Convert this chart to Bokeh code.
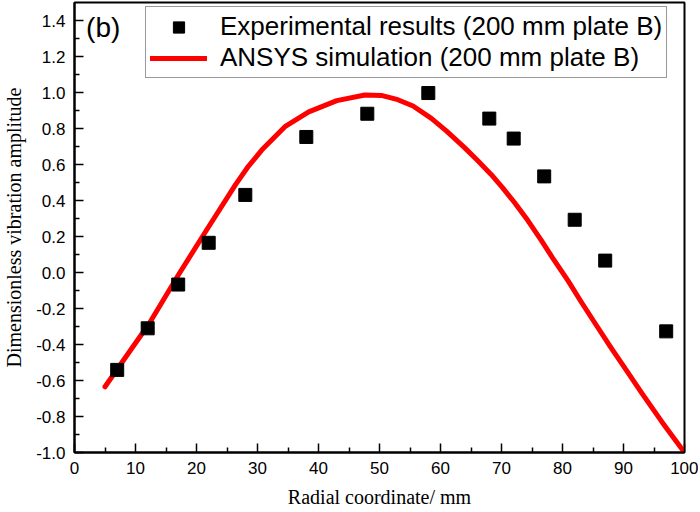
from bokeh.plotting import figure
from bokeh.models import (Range1d, FixedTicker, PrintfTickFormatter, Legend, LegendItem, Label)
from bokeh.embed import file_html
from bokeh.resources import INLINE

# ---- data ----
exp_x = [7, 12, 17, 22, 28, 38, 48, 58, 68, 72, 77, 82, 87, 97]
exp_y = [-0.541, -0.31, -0.067, 0.165, 0.431, 0.753, 0.882, 0.997, 0.855, 0.744, 0.534, 0.293, 0.066, -0.327]

sim_x = [5, 9, 12.2, 17.1, 21.5, 26.4, 28.5, 30.7, 34.5, 38.4, 43, 47.6, 50.3, 53, 55.5, 58.5,
         61, 63.9, 66, 68.3, 70.2, 72.1, 74.3, 76.5, 78.4, 80.9, 83, 85.2, 88, 90.4, 93, 96.3, 100]
sim_y = [-0.635, -0.44, -0.286, -0.01, 0.228, 0.488, 0.59, 0.68, 0.81, 0.892, 0.955, 0.986,
         0.984, 0.96, 0.925, 0.856, 0.785, 0.695, 0.625, 0.545, 0.47, 0.39, 0.29, 0.18, 0.08,
         -0.045, -0.16, -0.275, -0.42, -0.54, -0.67, -0.83, -1.0]

x_ticks = [0, 10, 20, 30, 40, 50, 60, 70, 80, 90, 100]
y_ticks = [-1.0, -0.8, -0.6, -0.4, -0.2, 0.0, 0.2, 0.4, 0.6, 0.8, 1.0, 1.2, 1.4]
x_minor = [5, 15, 25, 35, 45, 55, 65, 75, 85, 95]
y_minor = [-0.9, -0.7, -0.5, -0.3, -0.1, 0.1, 0.3, 0.5, 0.7, 0.9, 1.1, 1.3]

exp_label = "Experimental results (200 mm plate B)"
sim_label = "ANSYS simulation (200 mm plate B)"
x_title = "Radial coordinate/ mm"
y_title = "Dimensionless vibration amplitude"
panel_tag = "(b)"

p = figure(width=698, height=510, output_backend="svg", toolbar_location=None,
           x_range=Range1d(0, 100), y_range=Range1d(-1.0, 1.5),
           min_border_left=72, min_border_right=14, min_border_top=2, min_border_bottom=58)
p.grid.visible = False
p.background_fill_color = "white"
p.border_fill_color = "white"
p.outline_line_color = "black"
p.outline_line_width = 2

line_r = p.line(sim_x, sim_y, line_color="#ff0000", line_width=5, line_cap="round", line_join="round")
sc_r = p.scatter(exp_x, exp_y, marker="square", size=13, fill_color="black", line_color="black")

for ax in (p.xaxis[0], p.yaxis[0]):
    ax.axis_line_width = 2
    ax.axis_line_color = "black"
    ax.major_tick_in = 9
    ax.major_tick_out = 0
    ax.minor_tick_in = 5
    ax.minor_tick_out = 0
    ax.major_tick_line_width = 1.5
    ax.minor_tick_line_width = 1.5
    ax.major_label_text_font = "Liberation Sans"
    ax.major_label_text_font_size = "17px"
    ax.major_label_text_color = "black"
    ax.axis_label_text_font = "Liberation Serif"
    ax.axis_label_text_font_size = "20px"
    ax.axis_label_text_font_style = "normal"
    ax.axis_label_text_color = "black"

p.xaxis[0].ticker = FixedTicker(ticks=x_ticks, minor_ticks=x_minor)
p.yaxis[0].ticker = FixedTicker(ticks=y_ticks, minor_ticks=y_minor)
p.xaxis[0].formatter = PrintfTickFormatter(format="%d")
p.yaxis[0].formatter = PrintfTickFormatter(format="%.1f")
p.xaxis[0].axis_label = x_title
p.yaxis[0].axis_label = y_title
p.xaxis[0].major_label_standoff = 9
p.xaxis[0].axis_label_standoff = 9
p.yaxis[0].major_label_standoff = 9
p.yaxis[0].axis_label_standoff = 8

legend = Legend(items=[LegendItem(label=exp_label, renderers=[sc_r]),
                       LegendItem(label=sim_label, renderers=[line_r])],
                location=(71, 374), orientation="vertical")
legend.padding = 4
legend.margin = 0
legend.spacing = 0
legend.glyph_width = 57
legend.glyph_height = 28
legend.label_height = 28
legend.label_standoff = 13
legend.label_text_font = "Liberation Sans"
legend.label_text_font_size = "26px"
legend.label_text_color = "black"
legend.border_line_color = "#333333"
legend.border_line_width = 1
legend.background_fill_alpha = 1
p.add_layout(legend)

tag = Label(x=1.9, y=1.36, text=panel_tag, text_font="Liberation Sans", text_font_size="28px",
            text_baseline="middle", text_color="black")
p.add_layout(tag)

open("out.html", "w").write(file_html(p, INLINE))
